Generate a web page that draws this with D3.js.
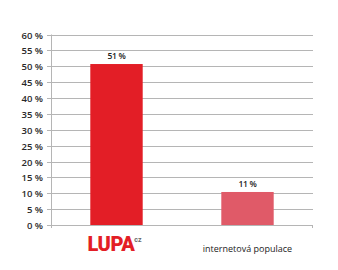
<!DOCTYPE html>
<html>
<head>
<meta charset="utf-8">
<script src="https://cdn.jsdelivr.net/npm/d3@7"></script>
<style>
  body { margin: 0; background: #fff; }
  text { font-family: "Open Sans", sans-serif; }
</style>
</head>
<body>
<svg id="chart"></svg>
<script>
// data
var categories = ["lupa", "internetová populace"]
var values = [50.7, 10.4]
var valueLabels = ["51 %", "11 %"]
var barColors = ["#e31e26", "#e05a68"]
var yTicks = [0, 5, 10, 15, 20, 25, 30, 35, 40, 45, 50, 55, 60]

var width = 338, height = 270
var plotLeft = 51, plotRight = 313, plotTop = 34.5, plotBottom = 225

var svg = d3.select("#chart")
    .attr("width", width)
    .attr("height", height)

var x = d3.scaleBand()
    .domain(categories)
    .range([plotLeft, plotRight])
    .paddingInner(0.6)
    .paddingOuter(0.3)

var y = d3.scaleLinear()
    .domain([0, 60])
    .range([plotBottom, plotTop])

// gridlines
svg.append("g")
    .selectAll("line")
    .data(yTicks)
    .enter()
    .append("line")
    .attr("x1", plotLeft - 4)
    .attr("x2", plotRight)
    .attr("y1", function(d) { return Math.round(y(d)) + 0.5 })
    .attr("y2", function(d) { return Math.round(y(d)) + 0.5 })
    .style("stroke", "#b5b5b5")
    .style("stroke-width", 1)

// y axis labels
var yAxis = d3.axisLeft(y)
    .tickValues(yTicks)
    .tickSize(0)
    .tickPadding(8)
    .tickFormat(function(d) { return d + " %" })

var gy = svg.append("g")
    .attr("transform", "translate(" + plotLeft + ",0)")
    .call(yAxis)
gy.select(".domain").remove()
gy.selectAll("text")
    .attr("transform", "translate(0,0.5)")
    .style("font-size", "9.5px")
    .style("font-weight", 600)
    .style("fill", "#2a2a2a")
    .style("font-family", "Open Sans, sans-serif")

// bars
svg.append("g")
    .selectAll("rect")
    .data(values)
    .enter()
    .append("rect")
    .attr("x", function(d, i) { return x(categories[i]) })
    .attr("y", function(d) { return y(d) })
    .attr("width", x.bandwidth())
    .attr("height", function(d) { return y(0) - y(d) })
    .style("fill", function(d, i) { return barColors[i] })

// value labels
svg.append("g")
    .selectAll("text")
    .data(values)
    .enter()
    .append("text")
    .attr("x", function(d, i) { return x(categories[i]) + x.bandwidth() / 2 })
    .attr("y", function(d) { return y(d) - 5 })
    .attr("text-anchor", "middle")
    .style("font-size", "8.5px")
    .style("font-weight", 600)
    .style("letter-spacing", "-0.3px")
    .style("fill", "#222")
    .text(function(d, i) { return valueLabels[i] })

// axis lines
svg.append("line")
    .attr("x1", plotLeft + 0.5).attr("x2", plotLeft + 0.5)
    .attr("y1", plotTop).attr("y2", plotBottom + 3)
    .style("stroke", "#b5b5b5")
svg.append("line")
    .attr("x1", plotRight - 0.5).attr("x2", plotRight - 0.5)
    .attr("y1", plotBottom).attr("y2", plotBottom + 3)
    .style("stroke", "#b5b5b5")

// category labels: logo for the first, plain text for the second
var c0 = x(categories[0]) + x.bandwidth() / 2
var logo = svg.append("text")
    .attr("x", c0 - 2)
    .attr("y", 251)
    .attr("text-anchor", "middle")
logo.append("tspan")
    .style("font-family", "Roboto, sans-serif")
    .style("font-weight", 900)
    .style("font-size", "20px")
    .style("letter-spacing", "-0.5px")
    .style("fill", "#e31e26")
    .text("LUPA")
logo.append("tspan")
    .attr("dy", -9)
    .style("font-family", "Roboto, sans-serif")
    .style("font-weight", 700)
    .style("font-size", "7px")
    .style("fill", "#666")
    .text("cz")

svg.append("text")
    .attr("x", x(categories[1]) + x.bandwidth() / 2)
    .attr("y", 252)
    .attr("text-anchor", "middle")
    .style("font-size", "9px")
    .style("fill", "#222")
    .text(categories[1])
</script>
</body>
</html>
